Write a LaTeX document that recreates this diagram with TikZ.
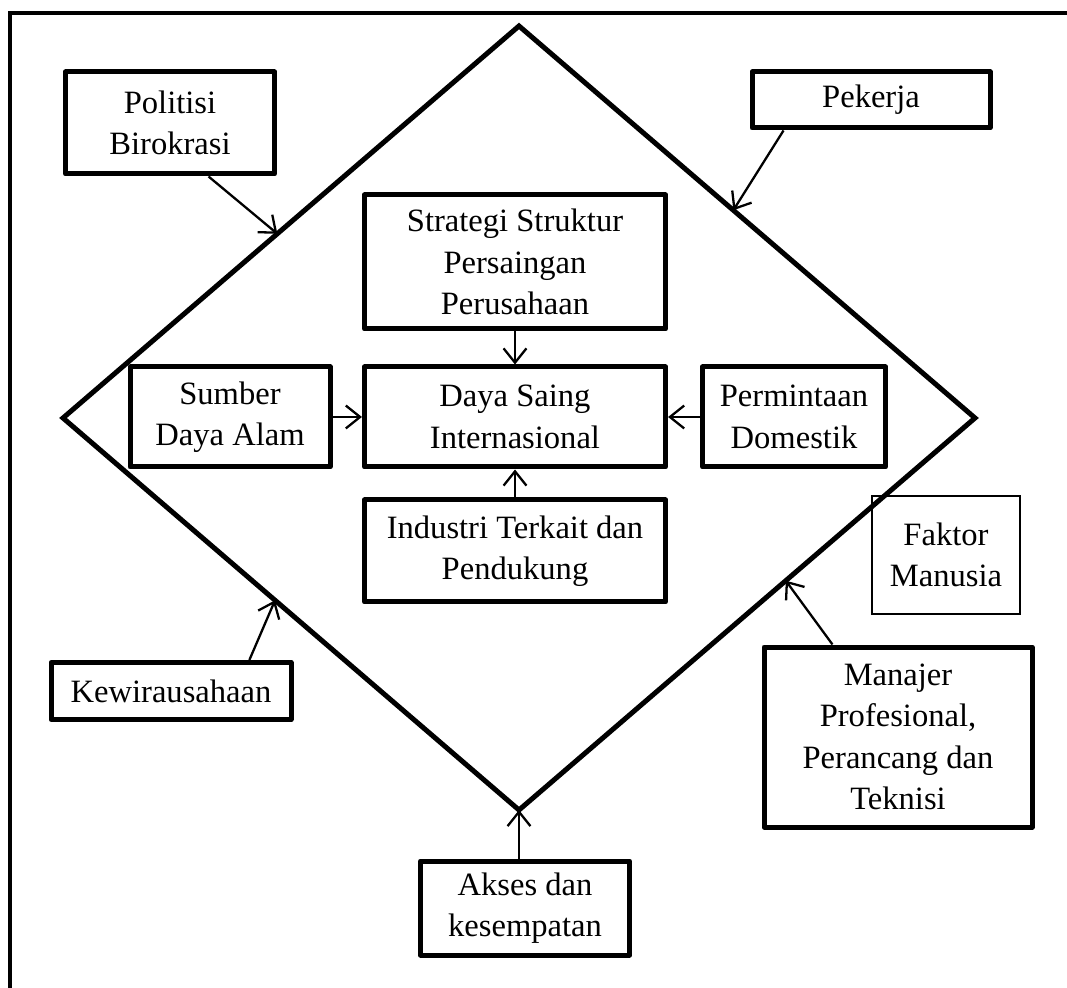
\documentclass[tikz,border=0pt]{standalone}
\usepackage{fontspec}
\setmainfont{Liberation Serif}
\usetikzlibrary{arrows.meta,calc}

\tikzset{
  >={Straight Barb[length=5pt,width=8pt]},
  txt/.style={align=center,font=\fontsize{11.4}{14.5}\selectfont},
  blok/.style 2 args={txt,draw,line width=1.75pt,line join=round,
    minimum width=#1,minimum height=#2,inner sep=1pt},
  tipis/.style 2 args={txt,draw,line width=0.4pt,
    minimum width=#1,minimum height=#2,inner sep=1pt},
  panah/.style={->,line width=0.8pt}
}

\begin{document}
\begin{tikzpicture}[x=0.35pt,y=-0.35pt]
   \useasboundingbox (0,0) rectangle (1067,988);
   % bingkai luar
   \draw[line width=1.4pt] (10,990) |- (1070,13);

   % berlian
   \coordinate (T) at (519,26);
   \coordinate (L) at (63,418);
   \coordinate (R) at (975,418);
   \coordinate (B) at (519,810);
   \draw[line width=1.75pt,line join=miter] (T) -- (R) -- (B) -- (L) -- cycle;

   % kotak dalam
   \node[blok={105.4pt}{35pt}] (daya) at (515,417) {Daya Saing\\Internasional};
   \node[blok={105.4pt}{46.9pt}] (strategi) at (515,262) {Strategi Struktur\\Persaingan\\Perusahaan};
   \node[blok={70pt}{35pt}] (sumber) at (230,417) {Sumber\\Daya Alam};
   \node[blok={64pt}{35pt}] (permintaan) at (794,417) {Permintaan\\Domestik};
   \node[blok={105.4pt}{35.7pt}] (industri) at (515,551) {Industri Terkait dan\\Pendukung};

   % kotak luar
   \node[blok={73.2pt}{35.7pt}] (politisi) at (170,123) {Politisi\\Birokrasi};
   \node[blok={83.3pt}{19.6pt}] (pekerja) at (871,100) {Pekerja};
   \node[tipis={51.8pt}{41.3pt}] (faktor) at (946,555) {Faktor\\Manusia};
   \node[blok={84pt}{20pt}] (kewira) at (171,691) {Kewirausahaan};
   \node[blok={93.8pt}{63pt}] (manajer) at (898,737) {Manajer\\Profesional,\\Perancang dan\\Teknisi};
   \node[blok={73.2pt}{32.9pt}] (akses) at (525,908) {Akses dan\\kesempatan};

   % panah ke pusat
   \draw[panah] (strategi) -- (daya);
   \draw[panah] (sumber) -- (daya);
   \draw[panah] (permintaan) -- (daya);
   \draw[panah] (industri) -- (daya);

   % panah ke berlian
   \draw[panah] ($(politisi.south west)!0.68!(politisi.south east)$) -- ($(T)!0.53!(L)$);
   \draw[panah] ($(pekerja.south west)!0.14!(pekerja.south east)$) -- ($(T)!0.47!(R)$);
   \draw[panah] ($(kewira.north west)!0.82!(kewira.north east)$) -- ($(L)!0.465!(B)$);
   \draw[panah] ($(manajer.north west)!0.26!(manajer.north east)$) -- ($(B)!0.585!(R)$);
   \draw[panah] (akses.north -| B) -- (B);
\end{tikzpicture}
\end{document}
